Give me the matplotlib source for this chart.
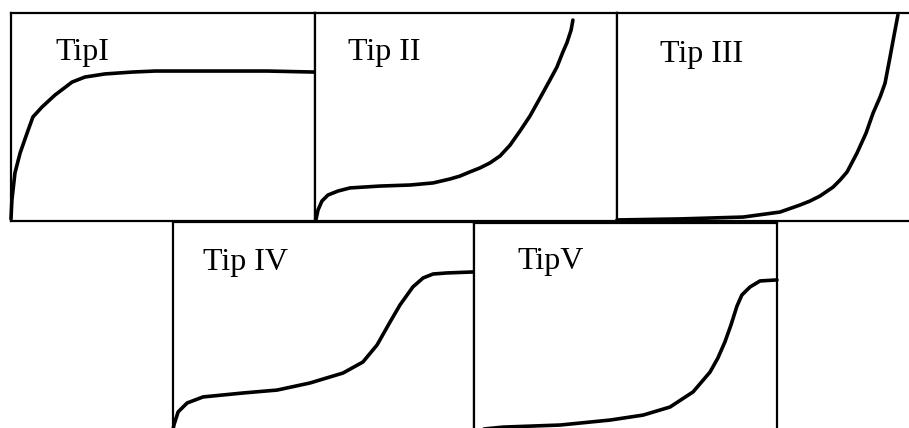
import matplotlib
matplotlib.use("Agg")
import matplotlib.pyplot as plt

# relative pressure (x) and adsorbed amount (y), both as fractions of each panel
tip1_x = [0.000, 0.003, 0.013, 0.030, 0.053, 0.072, 0.102, 0.145, 0.201, 0.243, 0.309, 0.398,
          0.474, 0.622, 0.842, 1.000]
tip1_y = [0.010, 0.101, 0.231, 0.327, 0.423, 0.500, 0.548, 0.606, 0.668, 0.692, 0.707, 0.716,
          0.721, 0.721, 0.721, 0.716]

tip2_x = [0.003, 0.010, 0.023, 0.043, 0.076, 0.116, 0.215, 0.315, 0.391, 0.447, 0.480, 0.513,
          0.546, 0.579, 0.613, 0.646, 0.679, 0.712, 0.745, 0.778, 0.801, 0.821, 0.834, 0.848, 0.854]
tip2_y = [0.005, 0.053, 0.096, 0.125, 0.144, 0.159, 0.168, 0.173, 0.183, 0.202, 0.216, 0.236,
          0.255, 0.279, 0.313, 0.365, 0.433, 0.505, 0.591, 0.678, 0.740, 0.813, 0.856, 0.918, 0.966]

tip3_x = [0.000, 0.216, 0.432, 0.558, 0.627, 0.661, 0.695, 0.740, 0.764, 0.788, 0.822, 0.853,
          0.877, 0.901, 0.918, 0.935, 0.949, 0.962]
tip3_y = [0.005, 0.010, 0.019, 0.043, 0.077, 0.096, 0.120, 0.163, 0.197, 0.236, 0.327, 0.423,
          0.519, 0.596, 0.663, 0.788, 0.894, 0.990]

tip4_x = [0.000, 0.003, 0.017, 0.047, 0.100, 0.233, 0.346, 0.455, 0.565, 0.631, 0.678, 0.721,
          0.754, 0.797, 0.831, 0.864, 0.910, 1.000]
tip4_y = [0.000, 0.024, 0.087, 0.130, 0.159, 0.178, 0.192, 0.226, 0.274, 0.327, 0.409, 0.519,
          0.601, 0.688, 0.731, 0.750, 0.755, 0.760]

tip5_x = [0.000, 0.096, 0.284, 0.449, 0.558, 0.647, 0.723, 0.779, 0.805, 0.828, 0.848, 0.868,
          0.884, 0.911, 0.944, 1.000]
tip5_y = [0.000, 0.014, 0.024, 0.048, 0.072, 0.111, 0.184, 0.280, 0.348, 0.425, 0.507, 0.599,
          0.652, 0.691, 0.720, 0.725]

labels = ["TipI", "Tip II", "Tip III", "Tip IV", "TipV"]

W, H = 909, 428
fig = plt.figure(figsize=(W / 100, H / 100), dpi=100)

# panel boxes in pixels: left, top, width, height
boxes = [
    (11, 13, 304, 208),
    (315, 13, 302, 208),
    (617, 13, 292, 208),
    (173, 222, 301, 208),
    (474, 223, 303, 207),
]
label_pos = [(0.145, 0.774), (0.109, 0.774), (0.147, 0.764), (0.100, 0.769), (0.142, 0.779)]
curves = [(tip1_x, tip1_y), (tip2_x, tip2_y), (tip3_x, tip3_y), (tip4_x, tip4_y), (tip5_x, tip5_y)]

for i, (box, (xs, ys), lab, lp) in enumerate(zip(boxes, curves, labels, label_pos)):
    left, top, w, h = box
    ax = fig.add_axes([left / W, 1 - (top + h) / H, w / W, h / H])
    ax.plot(xs, ys, color="black", lw=2.6, solid_capstyle="round",
            solid_joinstyle="round", clip_on=False)
    ax.set_xlim(0, 1)
    ax.set_ylim(0, 1)
    ax.set_xticks([])
    ax.set_yticks([])
    for sp in ax.spines.values():
        sp.set_linewidth(1.6)
    if i == 2:
        ax.spines["right"].set_visible(False)
    ax.text(lp[0], lp[1], lab, transform=ax.transAxes, ha="left", va="baseline",
            fontsize=23, family=["Liberation Serif", "DejaVu Serif"])

fig.savefig("out.png", dpi=100)
plt.close(fig)
